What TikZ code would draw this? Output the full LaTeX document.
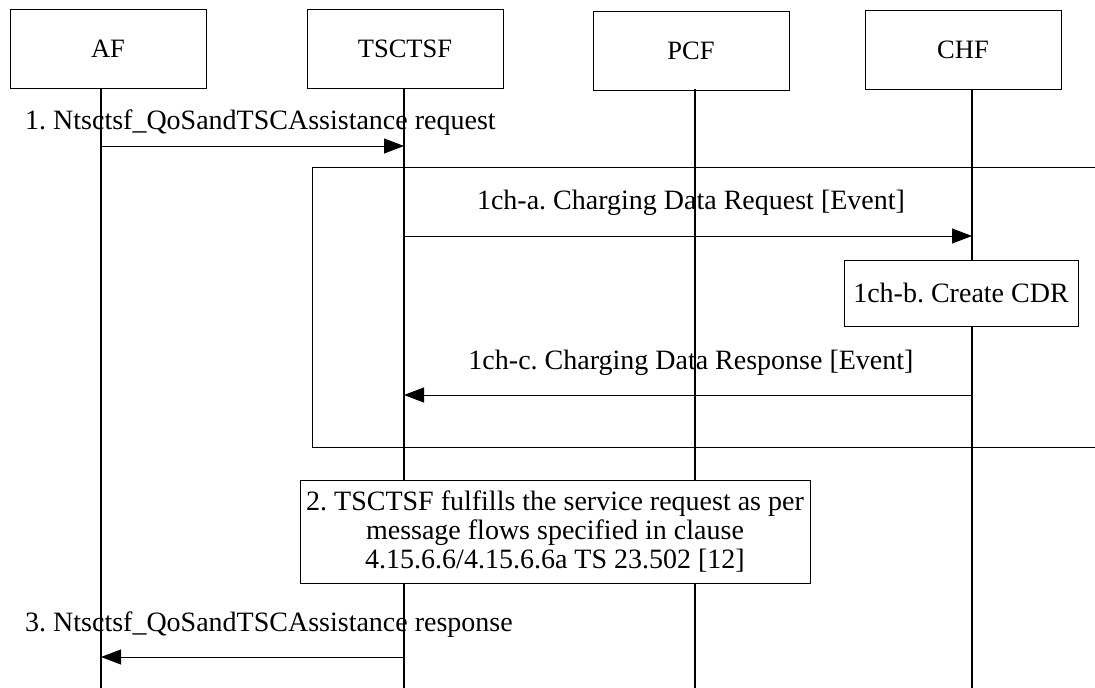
\documentclass[tikz,border=0pt]{standalone}
\usepackage{fontspec}
\setmainfont{Liberation Serif}
\usetikzlibrary{arrows.meta}
\usetikzlibrary{positioning}
\frenchspacing

\begin{document}
\begin{tikzpicture}[x=1pt, y=-1pt]
	\tikzstyle{nf}=[draw, line width=0.8pt, minimum width=196pt, minimum height=79pt,
	                        inner sep=0pt, font=\fontsize{26.5}{28}\selectfont];
	\tikzstyle{life}=[line width=1.4pt];
	\tikzstyle{msg}=[line width=0.8pt, -{Triangle[length=20pt, width=15pt]}];
	\tikzstyle{la}=[font=\fontsize{28}{30}\selectfont, inner sep=0pt];
	\tikzstyle{act}=[draw, fill=white, line width=1pt, inner sep=2pt,
	                        font=\fontsize{28}{29}\selectfont, align=center];
	\useasboundingbox (0,0) rectangle (1095,688);
	\node[nf] (af) at (108,49) {AF};
	\node[nf] (tsctsf) at (405,49) {TSCTSF};
	\node[nf] (pcf) at (691,51) {PCF};
	\node[nf] (chf) at (963,50) {CHF};
	% lifelines
	\foreach \n/\x in {af/101, tsctsf/404, pcf/695, chf/972}
	{\coordinate (\n-top) at (\x,89);
	 \coordinate (\n-end) at (\x,688);
	 \draw[life] (\n-top) -- (\n-end);}
	\foreach \r/\y in {r1/146, ra/236, rc/395, r3/657}
	{\coordinate (\r) at (0,\y);}
	% charging frame
	\draw[line width=0.8pt] (1095,167) -| (312,447) -- (1095,447);
	\node[la, anchor=west] (t1) at (25,123) {1. Ntsctsf\_QoSandTSCAssistance request};
	\draw[msg] (af-top |- r1) -- (tsctsf-top |- r1);
	\node[la] (ta) at (691,203) {1ch-a. Charging Data Request [Event]};
	\draw[msg] (tsctsf-top |- ra) -- (chf-top |- ra);
	\node[act, minimum width=234pt, minimum height=66pt] (cdr) at (961,293) {1ch-b. Create CDR};
	\node[la] (tc) at (691,363) {1ch-c. Charging Data Response [Event]};
	\draw[msg] (chf-top |- rc) -- (tsctsf-top |- rc);
	\node[act, minimum width=510pt, minimum height=103pt] (step2) at (555,532)
	  {2. TSCTSF fulfills the service request as per\\ message flows specified in clause\\
	   4.15.6.6/4.15.6.6a TS 23.502 [12]};
	\node[la, anchor=west] (t3) at (25,625) {3. Ntsctsf\_QoSandTSCAssistance response};
	\draw[msg] (tsctsf-top |- r3) -- (af-top |- r3);
\end{tikzpicture}
\end{document}
